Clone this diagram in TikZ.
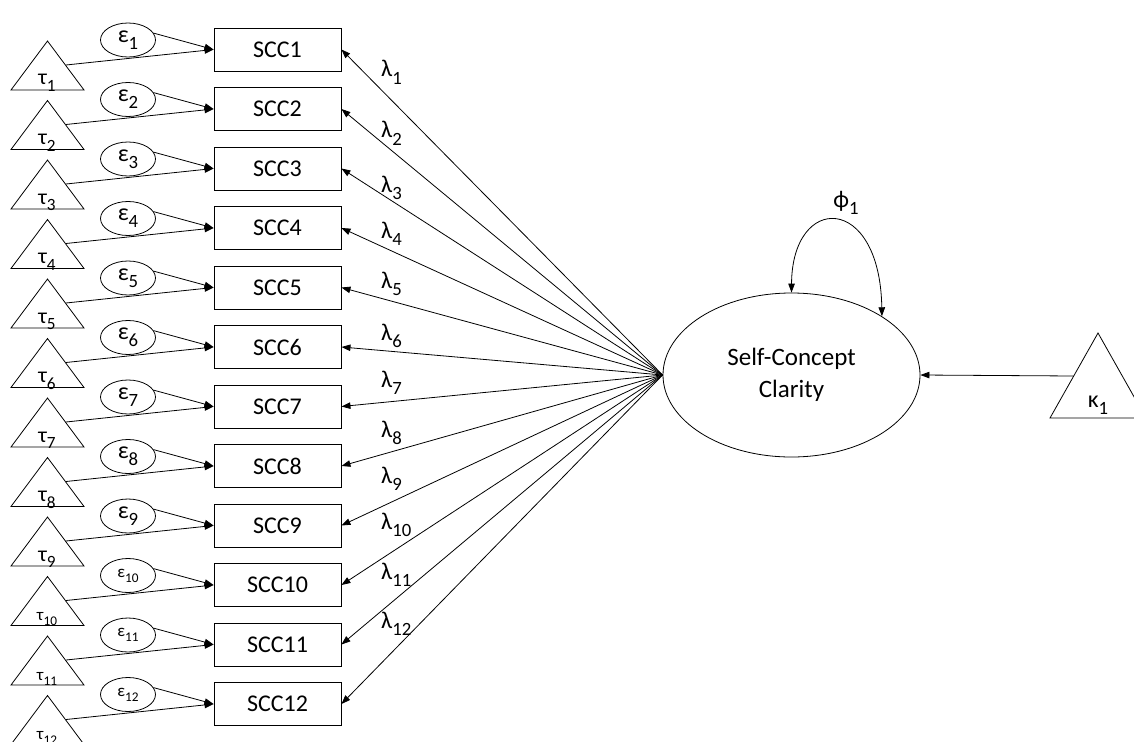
\documentclass[tikz,border=0pt]{standalone}
\usepackage{fontspec}
\setmainfont{Carlito}
\usetikzlibrary{shapes.geometric,arrows.meta}
\newcommand\sbs[1]{\raisebox{-0.3em}{\scalebox{0.78}{#1}}}
\begin{document}
\begin{tikzpicture}[x=1pt,y=-1pt,
  every node/.style={font=\fontsize{24}{26}\selectfont},
  obs/.style={draw, rectangle, line width=0.9pt, minimum width=127pt, minimum height=43pt, inner sep=0pt},
  err/.style={draw, ellipse, line width=0.8pt, minimum width=55pt, minimum height=34pt, inner sep=0pt},
  arr/.style={-{Triangle[length=9pt,width=6.5pt]}, line width=0.8pt},
  tri/.style={draw, line width=0.8pt, line join=miter},
  lab/.style={inner sep=0pt, anchor=base west}]
\useasboundingbox (0,0) rectangle (1134,741);
% latent
\node[draw, ellipse, line width=0.8pt, minimum width=257pt, minimum height=164pt, inner sep=0pt, align=center,
      font=\fontsize{25}{32}\selectfont] (sc) at (791.5,375) {Self-Concept\\Clarity};
% indicators
\foreach \i in {1,...,12} {
  \pgfmathsetmacro\yy{49.5+59.5*(\i-1)}
  \node[obs] (s\i) at (277.5,\yy) {SCC\i};
  \ifnum\i>9
    \node[err, font=\fontsize{17}{19}\selectfont] (e\i) at (128,\yy-9.5) {ε\sbs{\i}};
    \node[inner sep=0pt, anchor=base, font=\fontsize{17}{19}\selectfont] (tl\i) at (47,\yy+35.5) {τ\sbs{\i}};
  \else
    \node[err] (e\i) at (128,\yy-9.5) {ε\sbs{\i}};
    \node[inner sep=0pt, anchor=base, font=\fontsize{22}{24}\selectfont] (tl\i) at (47,\yy+35.5) {τ\sbs{\i}};
  \fi
  \draw[tri] (47.5,\yy-8.5) -- (84,\yy+40.5) -- (11,\yy+40.5) -- cycle;
  \coordinate (t\i) at (66,\yy+15.5);
  \draw[arr] (e\i.15) -- (s\i.west);
  \draw[arr] (t\i) -- (s\i.west);
  \draw[arr] (sc.west) -- (s\i.east);
}
% lambda labels
\foreach \i/\yl in {1/77,2/138,3/192,4/238,5/288,6/340,7/387,8/437,9/483,10/529,11/579,12/628} {
  \node[lab] (l\i) at (381,\yl) {λ\sbs{\i}};
}
% phi loop
\draw[{Triangle[length=9pt,width=6.5pt]}-{Triangle[length=9pt,width=6.5pt]}, line width=0.8pt]
  (sc.north) .. controls (792,193) and (880,193) .. (sc.33);
\node[inner sep=0pt, anchor=base] (phi) at (846,207) {ϕ\sbs{1}};
% kappa
\draw[tri] (1098,333) -- (1146,418) -- (1050,418) -- cycle;
\coordinate (k) at (1073.5,376);
\node[inner sep=0pt, anchor=base] (kl) at (1098,407) {κ\sbs{1}};
\draw[arr] (k) -- (sc.east);
\end{tikzpicture}
\end{document}
